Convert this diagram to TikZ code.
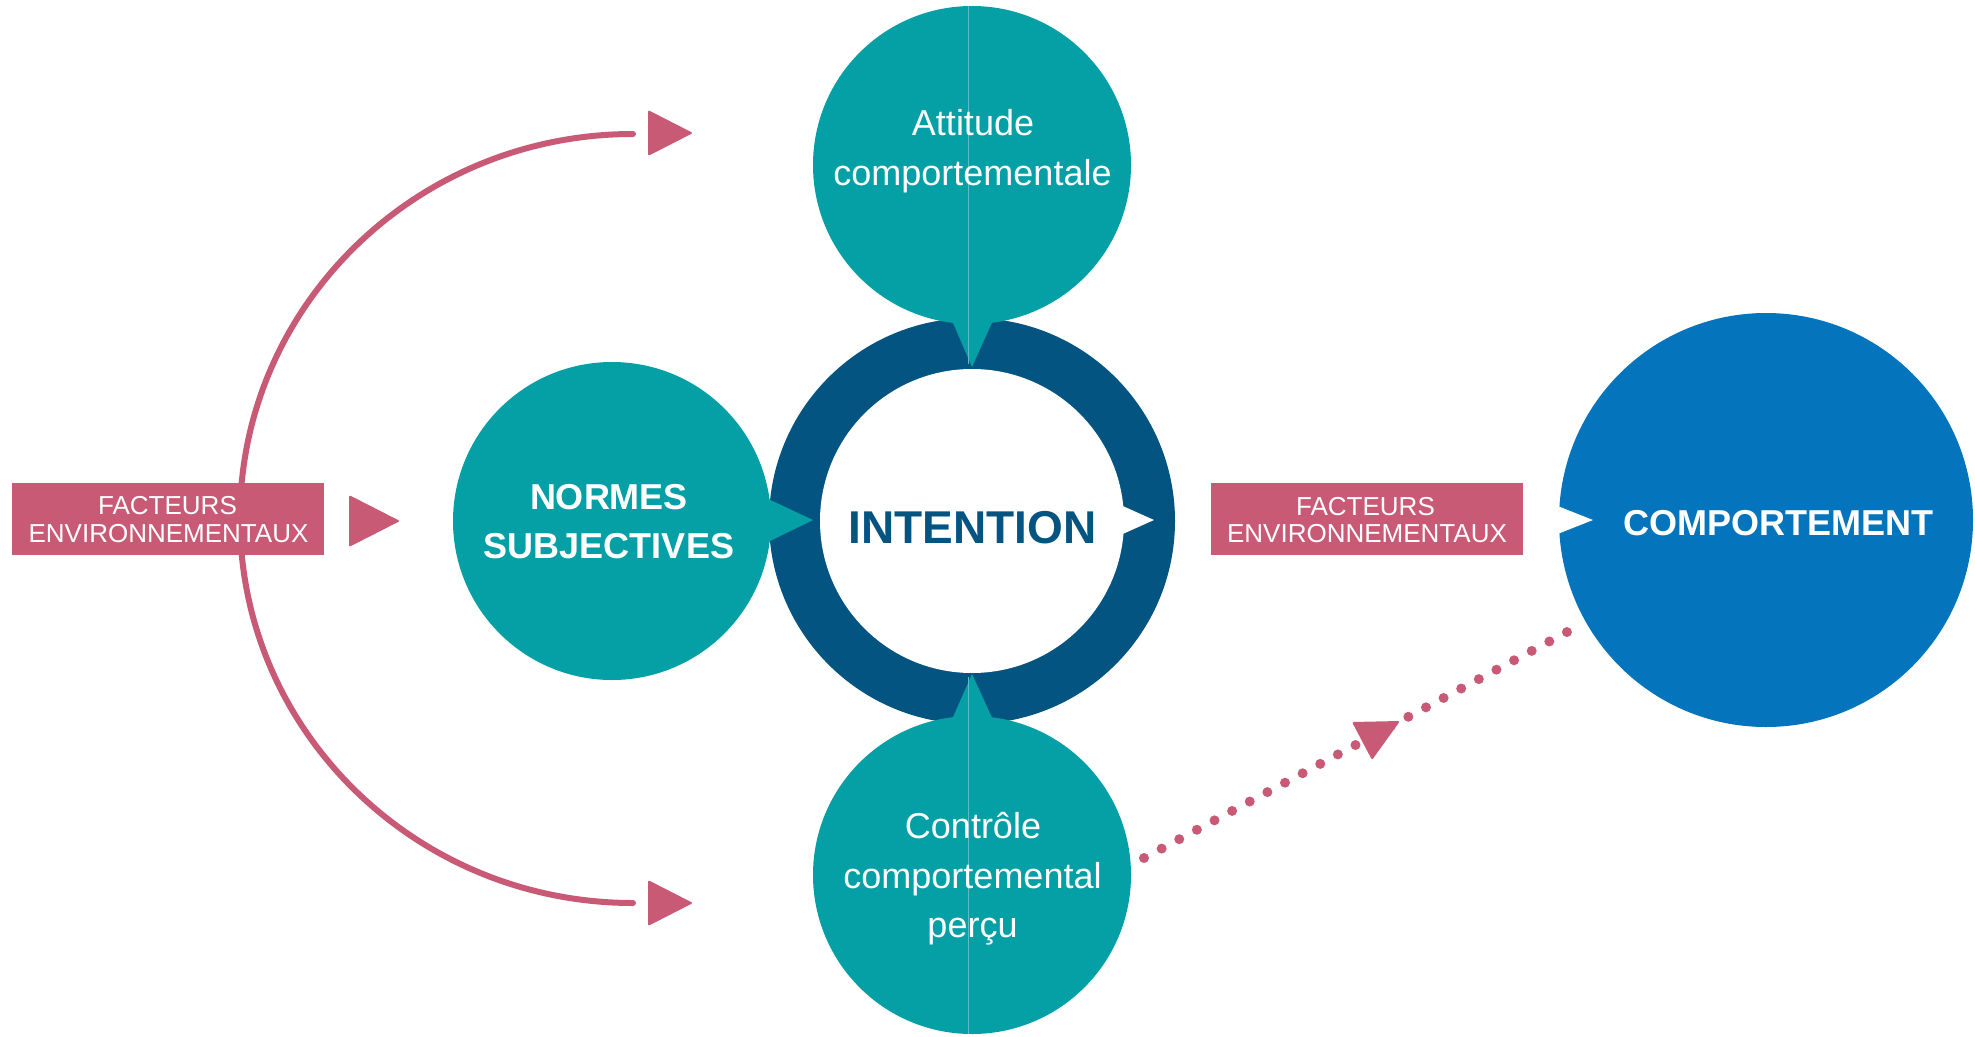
\documentclass[tikz,border=0pt]{standalone}
\usepackage{fontspec}
\setmainfont{Liberation Sans}
\definecolor{tealc}{RGB}{4,160,166}
\definecolor{tealline}{RGB}{90,190,195}
\definecolor{ringc}{RGB}{4,84,130}
\definecolor{bluec}{RGB}{4,117,188}
\definecolor{pinkc}{RGB}{200,90,118}
\begin{document}
\begin{tikzpicture}[x=1pt,y=-1pt,
  disc/.style={circle, inner sep=0pt, draw=none},
  wtxt/.style={inner sep=0pt, anchor=base, text=white, font=\fontsize{36pt}{50pt}\selectfont},
  btxt/.style={wtxt, font=\fontsize{36pt}{50pt}\selectfont\bfseries},
  ftxt/.style={inner sep=0pt, anchor=base, text=white, font=\fontsize{26pt}{28pt}\selectfont},
  fbox/.style={rectangle, fill=pinkc, inner sep=0pt, minimum width=312pt, minimum height=72pt},
  tip/.style={fill=pinkc, rounded corners=2pt},
  arcline/.style={draw=pinkc, line width=6pt, line cap=round},
  dotline/.style={draw=pinkc, line width=10pt, line cap=round, dash pattern=on 0pt off 19.98pt},
  seam/.style={draw=tealline, line width=1pt}
]
\useasboundingbox (0,0) rectangle (1975,1036);

% ring (INTENTION)
\node[disc, fill=ringc, minimum size=406pt] (ring) at (972,521) {};
\node[disc, fill=white, minimum size=304pt] (inner) at (972,521) {};
\fill[white] (1116,503) -- (1154,520) -- (1116,537) -- cycle;
\node[inner sep=0pt, anchor=base, text=ringc, font=\fontsize{46pt}{50pt}\selectfont\bfseries] (intention) at (972.5,543) {INTENTION};

% Attitude
\node[disc, fill=tealc, minimum size=318pt] (att) at (972,165) {};
\fill[tealc] (950,316) -- (972,367) -- (995,316) -- cycle;
\draw[seam] (968,6) -- (968,364);
\node[wtxt] (att1) at (973,135) {Attitude};
\node[wtxt] (att2) at (972.5,185) {comportementale};

% Controle
\node[disc, fill=tealc, minimum size=318pt] (ctl) at (972,875) {};
\fill[tealc] (950,724) -- (972,674) -- (995,724) -- cycle;
\draw[seam] (968,677) -- (968,1034);
\node[wtxt] (ctl1) at (973,838) {Contrôle};
\node[wtxt] (ctl2) at (972.5,888) {comportemental};
\node[wtxt] (ctl3) at (972.5,937) {perçu};

% Normes
\node[disc, fill=tealc, minimum size=318pt] (norm) at (612,521) {};
\fill[tealc] (766,498) -- (813,520) -- (766,543) -- cycle;
\node[btxt] (norm1) at (609,509) {NORMES};
\node[btxt] (norm2) at (609,558) {SUBJECTIVES};

% Comportement
\node[disc, fill=bluec, minimum size=414pt] (comp) at (1766,520) {};
\fill[white] (1550,503) -- (1593,520) -- (1550,537) -- cycle;
\node[btxt] (comp1) at (1778,535) {COMPORTEMENT};

% left arc with arrow tips
\coordinate (arcTop) at (633,134);
\coordinate (arcMid) at (240,518.5);
\coordinate (arcBot) at (633,903);
\draw[arcline] (arcTop) .. controls (415.9,134) and (240,306.1) .. (arcMid)
  .. controls (240,730.9) and (415.9,903) .. (arcBot);
\fill[tip] (648,110) -- (693,133) -- (648,156) -- cycle;
\fill[tip] (648,880) -- (693,903) -- (648,926) -- cycle;

% left factors box
\node[fbox] (fe1) at (168,519) {};
\node[ftxt] (fe1a) at (167.5,514) {FACTEURS};
\node[ftxt] (fe1b) at (168.5,542) {ENVIRONNEMENTAUX};
\fill[tip] (349,495) -- (400,521) -- (349,547) -- cycle;

% right factors box
\node[fbox] (fe2) at (1367,519) {};
\node[ftxt] (fe2a) at (1365.5,515) {FACTEURS};
\node[ftxt] (fe2b) at (1367,542.5) {ENVIRONNEMENTAUX};

% dotted connector
\coordinate (dotS) at (1144,858);
\coordinate (dotE) at (1567,632);
\draw[dotline] (dotS) -- (dotE);
\fill[tip] (1352,722) -- (1400,721) -- (1372,760) -- cycle;
\end{tikzpicture}
\end{document}
